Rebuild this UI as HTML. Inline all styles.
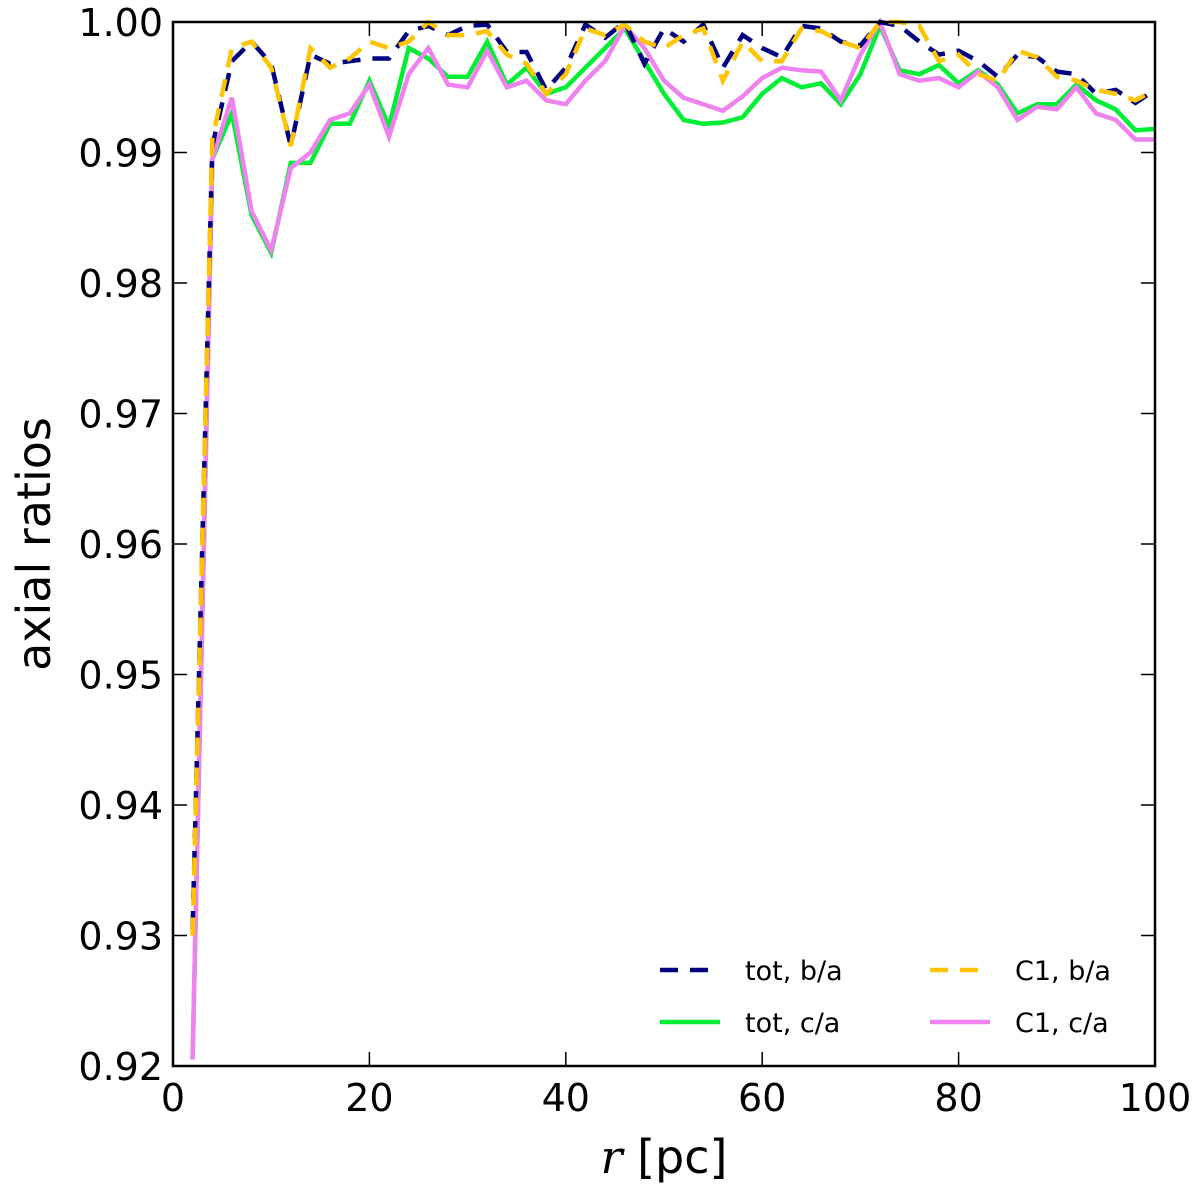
<!DOCTYPE html>
<html><head><meta charset="utf-8"><style>
html,body{margin:0;padding:0;background:#fff;}
svg{display:block;font-family:"DejaVu Sans","Liberation Sans",sans-serif;}
</style></head><body>
<svg id="chart" width="1200" height="1192">
<g id="series" clip-path="url(#clip)"></g>
<defs><clipPath id="clip"><rect x="173" y="18" width="983" height="1050"/></clipPath></defs>
<rect x="173" y="22" width="982" height="1044" fill="none" stroke="#000" stroke-width="2.5"/>
<g id="axes"></g>
<text x="664" y="1173" font-size="46" text-anchor="middle"><tspan font-family="DejaVu Serif,serif" font-style="italic">r</tspan> [pc]</text>
<text transform="translate(50,544) rotate(-90)" font-size="46" text-anchor="middle">axial ratios</text>
<g id="legend"></g>
</svg>
<script>
const radii = [2,4,6,8,10,12,14,16,18,20,22,24,26,28,30,32,34,36,38,40,42,44,46,48,50,52,54,56,58,60,62,64,66,68,70,72,74,76,78,80,82,84,86,88,90,92,94,96,98,100];
const totBA = [0.9305,0.9905,0.997,0.9985,0.9968,0.9905,0.9975,0.9968,0.9970,0.9972,0.9972,0.9993,0.9997,0.9990,0.9997,0.9998,0.9977,0.9977,0.9948,0.9965,0.9998,0.9988,1.0,0.9968,0.9995,0.9985,0.9998,0.9965,0.9990,0.9980,0.9973,0.9997,0.9995,0.9985,0.9982,1.0,0.9997,0.9985,0.9975,0.9978,0.9970,0.9958,0.9975,0.9973,0.9962,0.9960,0.9945,0.9948,0.9938,0.9948];
const c1BA = [0.930,0.991,0.998,0.9985,0.9965,0.9905,0.998,0.9965,0.9972,0.9985,0.998,0.9985,1.0,0.999,0.999,0.9993,0.9975,0.9968,0.9945,0.996,0.9995,0.999,0.9998,0.9985,0.998,0.999,0.9995,0.9955,0.9985,0.997,0.997,0.9995,0.9993,0.9985,0.998,1.0,1.0,0.9997,0.997,0.9975,0.996,0.9955,0.9978,0.9973,0.9958,0.9955,0.9948,0.9945,0.994,0.9948];
const totCA = [0.9205,0.9895,0.993,0.9852,0.9823,0.9892,0.9892,0.9922,0.9922,0.9955,0.992,0.998,0.9972,0.9958,0.9958,0.9985,0.9952,0.9965,0.9945,0.995,0.9965,0.998,0.9995,0.997,0.9945,0.9925,0.9922,0.9923,0.9927,0.9945,0.9957,0.995,0.9953,0.9937,0.9960,0.9997,0.9963,0.9960,0.9967,0.9953,0.9963,0.9952,0.9930,0.9937,0.9937,0.9952,0.9940,0.9933,0.9917,0.9918];
const c1CA = [0.9205,0.9895,0.9942,0.9855,0.9825,0.9888,0.990,0.9925,0.993,0.9952,0.9912,0.996,0.998,0.9952,0.995,0.9978,0.995,0.9955,0.994,0.9937,0.9955,0.997,0.9997,0.998,0.9955,0.9942,0.9937,0.9932,0.9943,0.9957,0.9965,0.9963,0.9962,0.994,0.9975,1.0,0.996,0.9955,0.9957,0.995,0.9962,0.995,0.9925,0.9935,0.9933,0.995,0.993,0.9925,0.991,0.991];
const xTicks = [0,20,40,60,80,100];
const yTicks = [0.92,0.93,0.94,0.95,0.96,0.97,0.98,0.99,1.00];
const seriesNames = ["tot, b/a","tot, c/a","C1, b/a","C1, c/a"];

const NS="http://www.w3.org/2000/svg";
const X0=173,X1=1155,Y0=1066,Y1=22;
const xs = r => X0 + (r-0)/(100-0)*(X1-X0);
const ys = v => Y0 - (v-0.92)/(1.0-0.92)*(Y0-Y1);
function mk(tag, attrs, parent){const e=document.createElementNS(NS,tag);for(const k in attrs)e.setAttribute(k,attrs[k]);parent.appendChild(e);return e;}
const axes=document.getElementById('axes');
xTicks.forEach(t=>{
  const x=xs(t);
  mk('line',{x1:x,x2:x,y1:Y0,y2:Y0-14,stroke:'#000','stroke-width':1.5},axes);
  mk('line',{x1:x,x2:x,y1:Y1,y2:Y1+14,stroke:'#000','stroke-width':1.5},axes);
  const tx=mk('text',{x:x,y:1111,'font-size':38,'text-anchor':'middle'},axes);
  tx.textContent=t;
  
  
});
yTicks.forEach(t=>{
  const y=ys(t);
  mk('line',{x1:X0,x2:X0+14,y1:y,y2:y,stroke:'#000','stroke-width':1.5},axes);
  mk('line',{x1:X1,x2:X1-14,y1:y,y2:y,stroke:'#000','stroke-width':1.5},axes);
  const tx=mk('text',{x:163,y:y+14,'font-size':38,'text-anchor':'end'},axes);
  tx.textContent=t.toFixed(2);
  
  
});
const g=document.getElementById('series');
function line(vals,color,dash,name){
  const d=vals.map((v,i)=>(i?'L':'M')+xs(radii[i]).toFixed(1)+','+ys(v).toFixed(1)).join(' ');
  const p=mk('path',{d:d,fill:'none',stroke:color,'stroke-width':4.5,'stroke-linejoin':'miter'},g);
  if(dash)p.setAttribute('stroke-dasharray',dash);
  
  
}
line(totCA,'#00ee33',null,'tot-ca-line');
line(c1CA,'#ee82ee',null,'c1-ca-line');
line(totBA,'#000080','18,12','tot-ba-line');
line(c1BA,'#ffc400','18,12','c1-ba-line');
const lg=document.getElementById('legend');
const L=[[660,970,'#000080','18,12',seriesNames[0]],[660,1022,'#00ee33',null,seriesNames[1]],[930,970,'#ffc400','18,12',seriesNames[2]],[930,1022,'#ee82ee',null,seriesNames[3]]];
L.forEach(([x,y,c,d,n])=>{
  const l=mk('line',{x1:x,x2:x+60,y1:y,y2:y,stroke:c,'stroke-width':4.5},lg);
  if(d)l.setAttribute('stroke-dasharray',d);
  const t=mk('text',{x:x+85,y:y+10,'font-size':27},lg);
  t.textContent=n;
  
  
});
</script>
</body></html>
